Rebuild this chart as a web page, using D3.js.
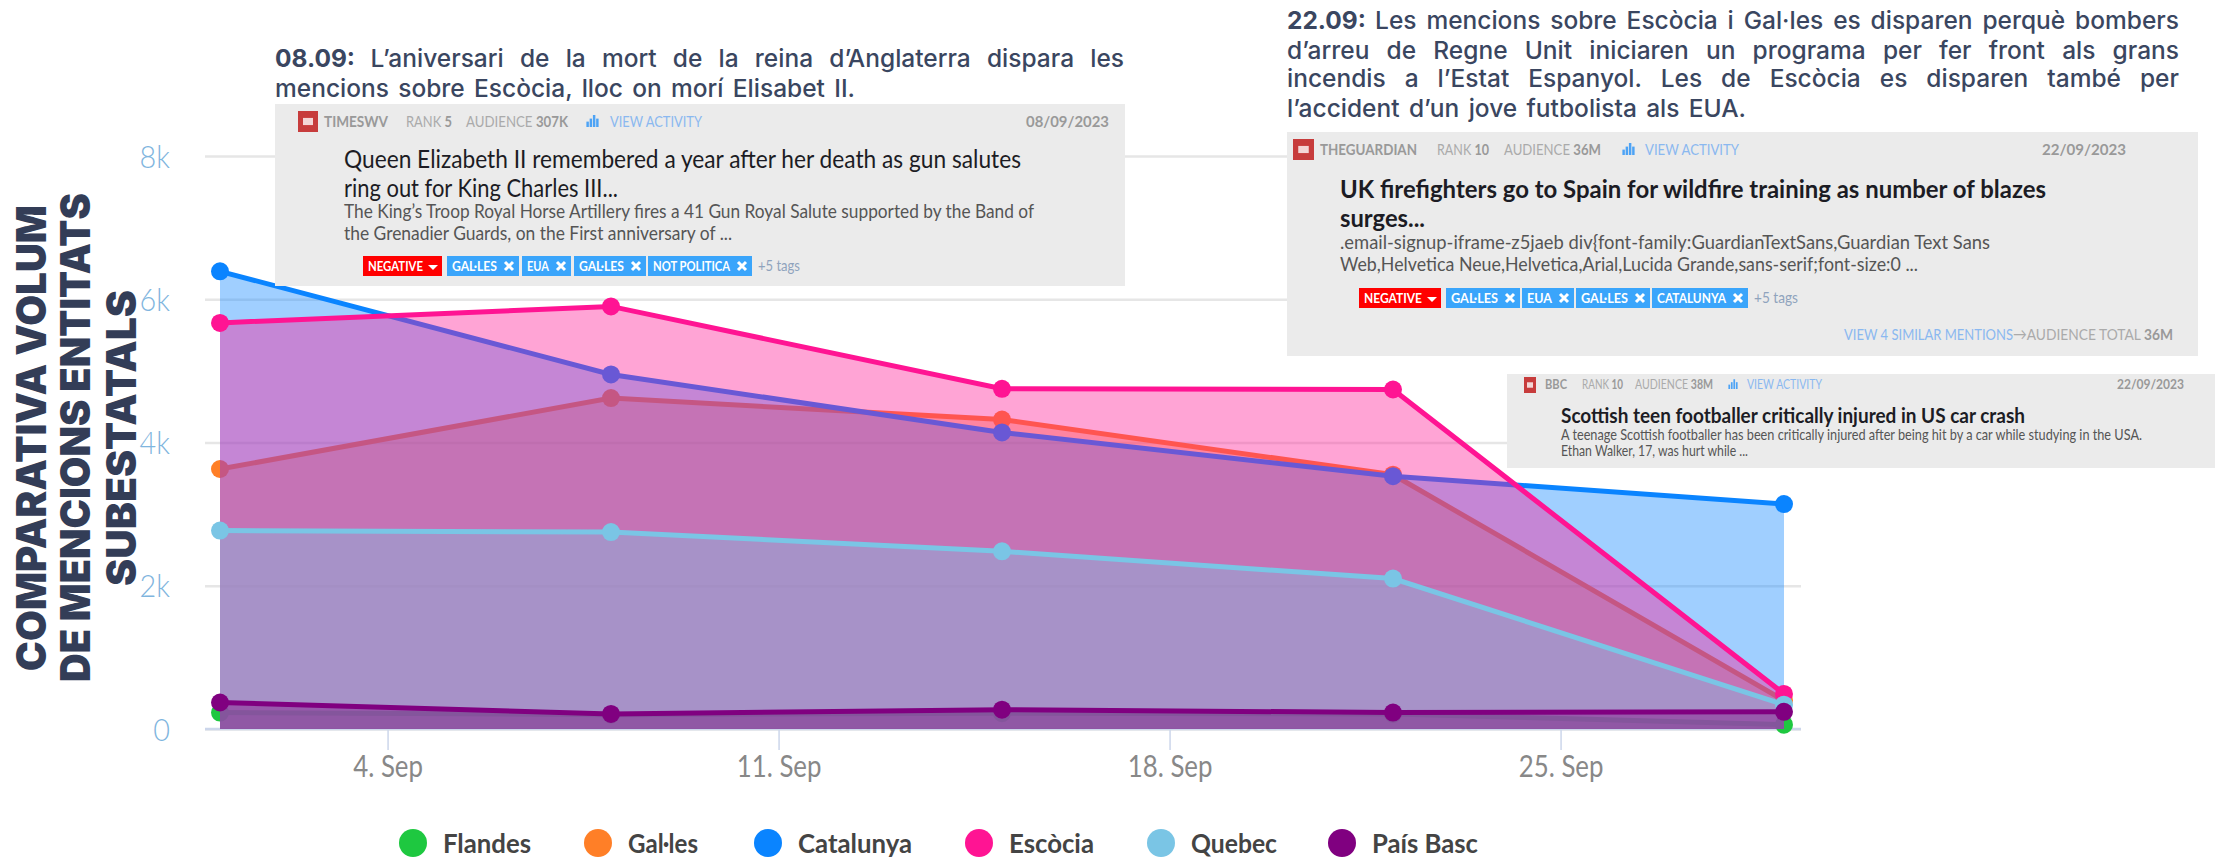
<!DOCTYPE html>
<html>
<head>
<meta charset="utf-8">
<script src="https://cdn.jsdelivr.net/npm/d3@7"></script>
<style>
html, body { margin: 0; padding: 0; background: #fff; overflow: hidden; }
svg { display: block; }
</style>
</head>
<body>
<svg id="chart"></svg>
<script>
var w = 2215;
var h = 859;

// data, one value per week
var dates = ["2023-09-01", "2023-09-08", "2023-09-15", "2023-09-22", "2023-09-29"];
var flandes = [230, 200, 220, 210, 60];
var galles = [3630, 4620, 4320, 3550, 400];
var catalunya = [6390, 4950, 4140, 3530, 3140];
var escocia = [5670, 5900, 4750, 4740, 490];
var quebec = [2770, 2750, 2480, 2100, 340];
var paisBasc = [370, 210, 270, 230, 240];

var seriesNames = ["Flandes", "Gal·les", "Catalunya", "Escòcia", "Quebec", "País Basc"];
var seriesValues = [flandes, galles, catalunya, escocia, quebec, paisBasc];
var seriesColors = ["#1ec840", "#ff7f27", "#0a84ff", "#ff1493", "#7ac5e5", "#800080"];
var yTicks = [0, 2000, 4000, 6000, 8000];
var xTicks = ["2023-09-04", "2023-09-11", "2023-09-18", "2023-09-25"];
var legendX = [413, 598, 768, 979, 1161, 1342];
var legendEnd = [531, 698, 912, 1094, 1277, 1478];

var parse = d3.timeParse("%Y-%m-%d");
var sansCard = "Lato, 'Open Sans', sans-serif";
var sansNote = "Inter, 'Noto Sans', sans-serif";

var svg = d3.select("#chart").attr("width", w).attr("height", h);

var x = d3.scaleTime().domain([parse(dates[0]), parse(dates[4])]).range([220, 1784]);
var y = d3.scaleLinear().domain([0, 8000]).range([729, 156]);

//y axis and grid lines
var yAxis = d3.axisLeft(y)
    .tickValues(yTicks)
    .tickSize(-1596)
    .tickPadding(35)
    .tickFormat(d => d == 0 ? "0" : d / 1000 + "k");
var yG = svg.append("g").attr("transform", "translate(205,0)").call(yAxis);
yG.select(".domain").remove();
yG.selectAll("line").attr("stroke", "#e6e6e6").attr("stroke-width", 2.5);
yG.selectAll("text")
    .attr("fill", "#7fb5de")
    .attr("dy", 11)
    .style("font", "300 32px Lato, sans-serif")
    .each(squeeze(0.9));

//x axis
var xAxis = d3.axisBottom(x)
    .tickValues(xTicks.map(parse))
    .tickSize(21)
    .tickPadding(6)
    .tickFormat(d => d3.timeFormat("%-d")(d) + ". Sep");
var xG = svg.append("g").attr("transform", "translate(0,729)").call(xAxis);
xG.select(".domain").remove();
xG.selectAll("line").attr("stroke", "#ccd6eb").attr("stroke-width", 1.5);
xG.selectAll("text")
    .attr("fill", "#888")
    .style("font", "400 30px Lato, sans-serif")
    .each(squeeze(0.86));
svg.append("line")
    .attr("x1", 205).attr("x2", 1801).attr("y1", y(0)).attr("y2", y(0))
    .attr("stroke", "#ccd6eb").attr("stroke-width", 2.5);

//areas, lines and markers, drawn series by series so later fills cover earlier lines
var area = d3.area().x((d, i) => x(parse(dates[i]))).y0(y(0)).y1(d => y(d));
var line = d3.line().x((d, i) => x(parse(dates[i]))).y(d => y(d));

seriesValues.forEach((values, s) => {
    var g = svg.append("g").attr("class", "series");
    g.append("path")
        .attr("d", area(values))
        .attr("fill", seriesColors[s])
        .attr("fill-opacity", 0.39);
    g.append("path")
        .attr("d", line(values))
        .attr("fill", "none")
        .attr("stroke", seriesColors[s])
        .attr("stroke-width", 5);
    g.selectAll("circle")
        .data(values)
        .enter()
        .append("circle")
        .attr("cx", (d, i) => x(parse(dates[i])))
        .attr("cy", d => y(d))
        .attr("r", 9)
        .attr("fill", seriesColors[s]);
});

//legend
seriesNames.forEach((name, i) => {
    svg.append("circle")
        .attr("cx", legendX[i]).attr("cy", 843).attr("r", 14)
        .attr("fill", seriesColors[i]);
    fit(svg.append("text").text(name), legendX[i] + 30, 853, legendEnd[i], "#444", "700 26px " + sansCard);
});

//narrow a tick label a little, keeping its height
function squeeze(f) {
    return function () {
        d3.select(this)
            .attr("textLength", this.getComputedTextLength() * f)
            .attr("lengthAdjust", "spacingAndGlyphs");
    };
}

//text squeezed to the width it has in the picture
function fit(sel, x0, base, x1, color, font) {
    return sel.attr("x", x0).attr("y", base)
        .attr("fill", color)
        .attr("textLength", x1 - x0)
        .attr("lengthAdjust", "spacingAndGlyphs")
        .style("font", font)
        .style("white-space", "pre");
}

//justified note line: the space between words takes up the slack
function noteLine(lead, rest, x0, base, x1, size) {
    var t = svg.append("text").attr("x", x0).attr("y", base)
        .attr("fill", "#3a4660")
        .style("font", "500 " + size + "px " + sansNote);
    if (lead) {
        t.append("tspan").attr("font-weight", 700).text(lead + " ");
    }
    t.append("tspan").text(rest);
    var natural = t.node().getComputedTextLength();
    var spaces = ((lead ? lead + " " : "") + rest).split(" ").length - 1;
    t.style("word-spacing", (x1 - x0 - natural) / spaces + "px");
}

//grey mention card
function card(box, head, title, desc, tags) {
    var g = svg.append("g");
    g.append("rect")
        .attr("x", box[0]).attr("y", box[1])
        .attr("width", box[2] - box[0]).attr("height", box[3] - box[1])
        .attr("fill", "#ebebeb");
    // red source icon
    var ic = head.icon;
    g.append("rect").attr("x", ic[0]).attr("y", ic[1]).attr("width", ic[2] - ic[0]).attr("height", ic[3] - ic[1]).attr("fill", "#c73c3c");
    var iw = ic[2] - ic[0], ih = ic[3] - ic[1];
    g.append("rect").attr("x", ic[0] + iw * 0.25).attr("y", ic[1] + ih * 0.33).attr("width", iw * 0.5).attr("height", ih * 0.34).attr("fill", "#f3d6d6");

    var hf = head.size + "px " + sansCard;
    fit(g.append("text").text(head.source), head.sourceX[0], head.base, head.sourceX[1], "#999", "700 " + hf);
    var r = fit(g.append("text"), head.rankX[0], head.base, head.rankX[1], "#aaa", "400 " + hf);
    r.append("tspan").text("RANK ");
    r.append("tspan").attr("font-weight", 700).attr("fill", "#999").text(head.rank);
    var a = fit(g.append("text"), head.audX[0], head.base, head.audX[1], "#aaa", "400 " + hf);
    a.append("tspan").text("AUDIENCE ");
    a.append("tspan").attr("font-weight", 700).attr("fill", "#999").text(head.audience);
    // little bar icon
    var bw = (head.barX[1] - head.barX[0]) / 4;
    [0.45, 0.7, 1, 0.7].forEach((f, i) => {
        g.append("rect")
            .attr("x", head.barX[0] + i * bw + 0.4).attr("width", bw - 0.8)
            .attr("y", head.base - head.size * 0.75 * f).attr("height", head.size * 0.75 * f)
            .attr("fill", "#4da3f5");
    });
    fit(g.append("text").text("VIEW ACTIVITY"), head.viewX[0], head.base, head.viewX[1], "#8ab8f0", "400 " + hf);
    fit(g.append("text").text(head.date), head.dateX[0], head.base, head.dateX[1], "#999", "700 " + hf);

    title.forEach(l => fit(g.append("text").text(l.text), l.x, l.base, l.end, "#1c1c24", l.font + " " + sansCard));
    desc.forEach(l => fit(g.append("text").text(l.text), l.x, l.base, l.end, "#555", "400 " + l.size + "px " + sansCard));

    if (tags) {
        tags.items.forEach((t, i) => {
            var neg = i == 0;
            g.append("rect")
                .attr("x", t.x[0]).attr("y", tags.y[0])
                .attr("width", t.x[1] - t.x[0]).attr("height", tags.y[1] - tags.y[0])
                .attr("fill", neg ? "#ff0000" : "#3aa5fb");
            fit(g.append("text").text(t.text), t.x[0] + 5, tags.y[1] - 5, t.x[1] - (neg ? 19 : 22), "#fff", "700 14px " + sansCard);
            var mx = t.x[1] - (neg ? 9 : 10);
            if (neg) {
                g.append("path")
                    .attr("d", `M${mx - 5},${tags.y[0] + 9}h10l-5,5z`)
                    .attr("fill", "#fff");
            } else {
                g.append("path")
                    .attr("d", `M${mx - 4},${tags.y[0] + 6}L${mx + 4},${tags.y[0] + 14}M${mx + 4},${tags.y[0] + 6}L${mx - 4},${tags.y[0] + 14}`)
                    .attr("stroke", "#fff").attr("stroke-width", 3);
            }
        });
        fit(g.append("text").text("+5 tags"), tags.more[0], tags.y[1] - 5, tags.more[1], "#8fa3bd", "400 15px " + sansCard);
    }
    return g;
}

//notes above the chart
noteLine("08.09:", "L’aniversari de la mort de la reina d’Anglaterra dispara les", 275, 67, 1124, 24.5);
noteLine("", "mencions sobre Escòcia, lloc on morí Elisabet II.", 275, 97, 855, 24.5);
noteLine("22.09:", "Les mencions sobre Escòcia i Gal·les es disparen perquè bombers", 1287, 29, 2179, 24.5);
noteLine("", "d’arreu de Regne Unit iniciaren un programa per fer front als grans", 1287, 59, 2179, 24.5);
noteLine("", "incendis a l’Estat Espanyol. Les de Escòcia es disparen també per", 1287, 87, 2179, 24.5);
noteLine("", "l’accident d’un jove futbolista als EUA.", 1287, 117, 1746, 24.5);

//the three mention cards
card([275, 104, 1125, 286],
    { icon: [298, 111, 318, 132], base: 127, size: 16, source: "TIMESWV", sourceX: [324, 388], rank: "5", rankX: [406, 452],
      audience: "307K", audX: [466, 568], barX: [586, 599], viewX: [610, 702], date: "08/09/2023", dateX: [1026, 1109] },
    [{ text: "Queen Elizabeth II remembered a year after her death as gun salutes", x: 344, base: 168, end: 1021, font: "400 25px" },
     { text: "ring out for King Charles III...", x: 344, base: 197, end: 618, font: "400 25px" }],
    [{ text: "The King’s Troop Royal Horse Artillery fires a 41 Gun Royal Salute supported by the Band of", x: 344, base: 218, end: 1034, size: 19 },
     { text: "the Grenadier Guards, on the First anniversary of ...", x: 344, base: 240, end: 732, size: 19 }],
    { y: [256, 276], more: [758, 800], items: [
        { text: "NEGATIVE", x: [363, 442] }, { text: "GAL·LES", x: [447, 519] }, { text: "EUA", x: [522, 571] },
        { text: "GAL·LES", x: [574, 646] }, { text: "NOT POLITICA", x: [648, 752] }] });

var guardian = card([1287, 132, 2198, 356],
    { icon: [1293, 139, 1314, 160], base: 155, size: 16, source: "THEGUARDIAN", sourceX: [1320, 1417], rank: "10", rankX: [1437, 1489],
      audience: "36M", audX: [1504, 1601], barX: [1622, 1635], viewX: [1645, 1739], date: "22/09/2023", dateX: [2042, 2126] },
    [{ text: "UK firefighters go to Spain for wildfire training as number of blazes", x: 1340, base: 198, end: 2046, font: "700 25px" },
     { text: "surges...", x: 1340, base: 227, end: 1425, font: "700 25px" }],
    [{ text: ".email-signup-iframe-z5jaeb div{font-family:GuardianTextSans,Guardian Text Sans", x: 1340, base: 249, end: 1990, size: 19 },
     { text: "Web,Helvetica Neue,Helvetica,Arial,Lucida Grande,sans-serif;font-size:0 ...", x: 1340, base: 271, end: 1918, size: 19 }],
    { y: [288, 308], more: [1754, 1798], items: [
        { text: "NEGATIVE", x: [1359, 1441] }, { text: "GAL·LES", x: [1446, 1520] }, { text: "EUA", x: [1522, 1574] },
        { text: "GAL·LES", x: [1576, 1650] }, { text: "CATALUNYA", x: [1652, 1748] }] });
fit(guardian.append("text").text("VIEW 4 SIMILAR MENTIONS"), 1844, 340, 2013, "#8ab8f0", "400 16px " + sansCard);
var total = fit(guardian.append("text"), 2013, 340, 2173, "#aaa", "400 16px " + sansCard);
total.append("tspan").text("→AUDIENCE TOTAL ");
total.append("tspan").attr("font-weight", 700).attr("fill", "#999").text("36M");

card([1507, 374, 2215, 468],
    { icon: [1524, 377, 1536, 393], base: 389, size: 13, source: "BBC", sourceX: [1545, 1567], rank: "10", rankX: [1582, 1623],
      audience: "38M", audX: [1635, 1713], barX: [1728, 1738], viewX: [1747, 1822], date: "22/09/2023", dateX: [2117, 2184] },
    [{ text: "Scottish teen footballer critically injured in US car crash", x: 1561, base: 423, end: 2025, font: "700 21px" }],
    [{ text: "A teenage Scottish footballer has been critically injured after being hit by a car while studying in the USA.", x: 1561, base: 440, end: 2142, size: 16 },
     { text: "Ethan Walker, 17, was hurt while ...", x: 1561, base: 456, end: 1748, size: 16 }],
    null);

//rotated y title
var titleLines = ["COMPARATIVA VOLUM", "DE MENCIONS ENTITATS", "SUBESTATALS"];
var titleX = [46, 90, 136];
var titleSpan = [[205, 671], [193, 682], [290, 586]];
titleLines.forEach((t, i) => {
    var g = svg.append("g").attr("transform", `translate(${titleX[i]},${titleSpan[i][1]}) rotate(-90)`);
    fit(g.append("text").text(t), 0, 0, titleSpan[i][1] - titleSpan[i][0], "#333d57", "900 41px " + sansNote);
});
</script>
</body>
</html>
